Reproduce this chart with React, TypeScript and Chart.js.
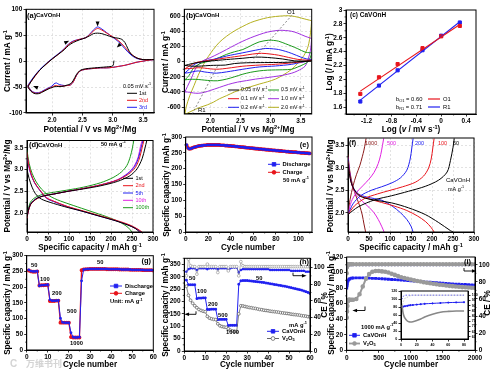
import React, { useEffect, useRef } from "react";
import { Chart, registerables } from "chart.js";
Chart.register(...registerables);

const PW = 492, PH = 377;
const FF = "'Liberation Sans', Arial, Helvetica, sans-serif";
const RED = "#e8141b", BLUE = "#2020f0", GREEN = "#1a9a1a", MAG = "#e020e0", PURP = "#a030e0", OLIVE = "#b5b020", DRED = "#8b1a1a", GRAY = "#8c8c8c", BLK = "#000000";

// ---------------- (a) CV, 0.05 mV/s, cycles ----------------
const aLoopV = [1.60,1.65,1.72,1.80,1.90,2.00,2.10,2.20,2.27,2.35,2.45,2.55,2.62,2.68,2.75,2.82,2.90,3.00,3.10,3.20,3.30,3.40,3.50,3.60,3.68, 3.60,3.50,3.40,3.30,3.20,3.10,3.00,2.90,2.80,2.70,2.60,2.50,2.45,2.40,2.35,2.30,2.25,2.20,2.15,2.10,2.07,2.03,2.00,1.95,1.90,1.85,1.80,1.75,1.70,1.65,1.60];
const a3I = [-47,-38,-27,-16,-5,5,14,24,33,39,42,45,52,60,66,62,55,46,37,24,12,5,3,3,3, 2,0,-2,-5,-8,-10,-12,-13,-13,-14,-15,-17,-20,-28,-40,-46,-47,-47,-46,-44,-42,-44,-48,-51,-54,-57,-60,-61,-60,-56,-47];
const a2I = [-48,-40,-29,-17,-6,4,13,23,32,38,42,45,51,58,63,60,54,47,39,27,14,6,3,3,3, 2,0,-2,-5,-8,-10,-12,-13,-13,-14,-15,-17,-20,-28,-40,-46,-47,-48,-48,-48,-47,-48,-50,-52,-55,-58,-61,-62,-61,-57,-48];
const a1LowV = [3.02,3.00,2.90,2.80,2.70,2.60,2.50,2.45,2.40,2.35,2.30,2.25,2.20,2.15,2.10,2.05,2.00,1.95,1.90,1.85,1.80,1.75,1.70,1.65,1.60];
const a1LowI = [1,-9,-11,-12,-13,-14,-16,-19,-26,-37,-44,-46,-48,-49,-49,-49,-51,-53,-56,-59,-62,-63,-62,-58,-50];
const a1UpV = [1.60,1.65,1.72,1.80,1.90,2.00,2.10,2.20,2.27,2.35,2.45,2.55,2.62,2.68,2.75,2.82,2.90,3.00,3.10,3.15,3.20,3.25,3.30,3.40,3.50,3.60,3.68];
const a1UpI = [-50,-40,-28,-17,-6,4,13,22,30,36,41,45,49,53,54,53,50,46,44,42,36,24,14,6,3,3,3];

// ---------------- (b) CV at scan rates ----------------
const bOlUpV = [1.58,1.60,1.66,1.73,1.80,1.89,1.97,2.05,2.15,2.27,2.40,2.54,2.67,2.81,2.95,3.08,3.20,3.30,3.40,3.51,3.60,3.68];
const bOlUpI = [-700,-600,-450,-317,-180,-35,70,160,255,335,405,465,515,552,580,595,603,605,595,574,555,540];
const bOlLoV = [3.68,3.66,3.62,3.55,3.45,3.35,3.20,3.08,2.95,2.81,2.67,2.54,2.40,2.27,2.15,2.05,1.95,1.84,1.75,1.68,1.62,1.58];
const bOlLoI = [540,380,200,80,-20,-100,-180,-230,-265,-296,-330,-360,-400,-448,-490,-535,-570,-600,-630,-656,-680,-700];
const bPuUpV = [1.58,1.62,1.68,1.78,1.90,2.00,2.15,2.27,2.40,2.54,2.67,2.81,2.95,3.13,3.25,3.35,3.45,3.57,3.65,3.68];
const bPuUpI = [-400,-330,-230,-60,20,52,110,160,215,270,315,356,390,413,410,400,375,335,313,305];
const bPuLoV = [3.68,3.66,3.62,3.57,3.45,3.35,3.20,3.05,2.90,2.75,2.60,2.45,2.30,2.15,2.00,1.90,1.80,1.72,1.66,1.62,1.58];
const bPuLoI = [305,150,30,-60,-120,-152,-180,-198,-215,-230,-250,-270,-300,-340,-380,-405,-417,-413,-405,-400,-400];
const bGrUpV = [1.58,1.65,1.73,1.85,2.00,2.15,2.27,2.40,2.54,2.67,2.81,2.97,3.05,3.13,3.25,3.35,3.45,3.57,3.65,3.68];
const bGrUpI = [-240,-180,-78,-20,9,55,96,130,160,210,260,283,280,270,235,204,170,126,117,115];
const bGrLoV = [3.68,3.66,3.62,3.55,3.45,3.35,3.20,3.08,2.95,2.81,2.67,2.54,2.40,2.27,2.12,2.00,1.90,1.80,1.70,1.62,1.58];
const bGrLoI = [115,60,0,-35,-70,-100,-107,-109,-112,-122,-140,-165,-200,-230,-252,-250,-243,-235,-232,-236,-240];
const bBlUpV = [1.58,1.65,1.75,1.90,2.05,2.27,2.54,2.81,2.92,3.05,3.13,3.25,3.35,3.50,3.60,3.68];
const bBlUpI = [-150,-100,-30,10,30,74,117,160,174,168,160,135,108,60,35,28];
const bBlLoV = [3.68,3.60,3.50,3.35,3.08,2.81,2.54,2.27,2.10,2.00,1.90,1.80,1.70,1.62,1.58];
const bBlLoI = [28,5,-10,-35,-57,-70,-100,-135,-152,-145,-135,-122,-135,-148,-150];
const bReUpV = [1.58,1.65,1.75,1.90,2.05,2.27,2.54,2.70,2.85,3.00,3.13,3.30,3.45,3.60,3.68];
const bReUpI = [-95,-60,-15,8,25,50,80,100,110,100,85,55,30,20,18];
const bReLoV = [3.68,3.60,3.45,3.30,3.08,2.81,2.54,2.35,2.20,2.10,2.00,1.90,1.80,1.70,1.62,1.58];
const bReLoI = [18,5,-8,-20,-35,-45,-60,-80,-95,-100,-95,-85,-80,-88,-92,-95];
const bBkUpV = [1.58,1.70,1.85,2.00,2.27,2.54,2.75,2.95,3.20,3.40,3.60,3.68];
const bBkUpI = [-50,-25,-5,8,28,45,60,55,35,10,8,8];
const bBkLoV = [3.68,3.50,3.20,2.90,2.60,2.40,2.25,2.10,2.00,1.85,1.70,1.58];
const bBkLoI = [8,0,-10,-12,-15,-25,-45,-48,-50,-58,-60,-50];
const bO1V = [2.72, 3.35], bO1I = [40, 610];
const bR1V = [1.70, 2.12], bR1I = [-690, -60];

// ---------------- (c) log i vs log v ----------------
const cLogV = [-1.30, -1.00, -0.70, -0.30, 0.00, 0.30];
const cO1 = [1.79, 2.03, 2.22, 2.45, 2.62, 2.77];
const cR1 = [1.68, 1.91, 2.13, 2.42, 2.63, 2.82];
const cFitX = [-1.30, 0.30];
const cO1Fit = [1.83, 2.79];
const cR1Fit = [1.70, 2.83];

// ---------------- (d) GCD at 50 mA/g ----------------
const d1DisC = [0,5,12,20,30,40,55,90,130,170,210,240,258,268];
const d1DisV = [3.00,2.80,2.60,2.45,2.35,2.30,2.25,2.15,2.05,1.94,1.83,1.73,1.65,1.57];
const d2DisC = [0,4,10,18,30,47,63,95,135,175,215,245,263,274];
const d2DisV = [3.40,3.12,2.90,2.71,2.54,2.35,2.28,2.16,2.05,1.94,1.83,1.73,1.64,1.57];
const d5DisC = [0,4,10,18,30,47,63,95,135,175,215,245,262,272];
const d5DisV = [3.35,3.10,2.88,2.70,2.53,2.34,2.27,2.15,2.04,1.93,1.82,1.72,1.64,1.57];
const d10DisC = [0,4,10,18,30,47,63,95,135,175,215,244,260,270];
const d10DisV = [3.30,3.08,2.87,2.70,2.54,2.36,2.28,2.16,2.04,1.93,1.82,1.72,1.64,1.57];
const d100DisC = [0,5,12,22,35,50,65,80,110,150,190,220,240,250];
const d100DisV = [3.45,3.15,2.92,2.72,2.55,2.42,2.34,2.28,2.18,2.05,1.92,1.80,1.68,1.57];
const d1ChC = [0,3,8,15,25,40,63,95,135,175,215,245,262,274,281,285];
const d1ChV = [1.92,2.06,2.20,2.28,2.35,2.40,2.44,2.50,2.56,2.63,2.73,2.86,3.02,3.25,3.50,3.66];
const d2ChC = [0,3,8,15,25,40,63,95,135,175,215,242,258,268,274,278];
const d2ChV = [1.88,2.04,2.19,2.27,2.34,2.40,2.44,2.50,2.57,2.65,2.76,2.90,3.05,3.27,3.50,3.66];
const d5ChC = [0,3,8,15,25,40,63,95,135,175,215,240,256,266,272,276];
const d5ChV = [1.90,2.05,2.20,2.28,2.35,2.40,2.44,2.50,2.57,2.65,2.76,2.91,3.07,3.29,3.52,3.66];
const d10ChC = [0,3,8,15,25,40,63,95,135,175,215,240,255,265,270,274];
const d10ChV = [1.90,2.05,2.20,2.28,2.35,2.40,2.44,2.50,2.57,2.65,2.77,2.92,3.08,3.30,3.53,3.66];
const d100ChC = [0,3,8,15,25,40,63,95,135,175,205,225,238,246,251,254];
const d100ChV = [1.95,2.10,2.25,2.33,2.39,2.44,2.48,2.53,2.60,2.70,2.82,2.95,3.10,3.30,3.50,3.66];

// ---------------- (e) cycling at 50 mA/g ----------------
const eDis = [276,265,262,263,264,265,267,268,269,270, 271,272,272,273,273,274,274,274,275,275, 275,275,275,275,275,275,275,275,275,275, 274,274,274,274,273,273,273,272,272,272, 271,271,271,270,270,270,269,269,268,268, 268,267,267,266,266,266,265,265,265,264, 264,263,263,263,262,262,262,261,261,261, 260,260,260,259,259,259,258,258,258,257, 257,257,256,256,256,255,255,255,254,254, 254,253,253,253,252,252,252,252,251,251, 251,250,250,250,250,249,249,249,248,248];
const eCha = [274,266,263,263,264,266,267,268,269,270, 271,272,272,273,273,274,274,274,275,275, 275,275,275,275,275,275,275,275,275,275, 274,274,274,274,273,273,273,272,272,272, 271,271,271,270,270,270,269,269,268,268, 268,267,267,266,266,266,265,265,265,264, 264,263,263,263,262,262,262,261,261,261, 260,260,260,259,259,259,258,258,258,257, 257,257,256,256,256,255,255,255,254,254, 254,253,253,253,252,252,252,252,251,251, 251,250,250,250,250,249,249,249,248,248];

// ---------------- (f) GCD at rates ----------------
const f50ChC = [0,24,64,104,144,184,216,236,244,250,253];
const f50ChV = [1.96,2.13,2.29,2.38,2.48,2.59,2.73,2.91,3.17,3.46,3.66];
const f50DisC = [0,8,24,48,104,144,184,216,244,250];
const f50DisV = [3.10,2.66,2.40,2.31,2.22,2.11,1.96,1.78,1.60,1.57];
const f100ChC = [0,15,40,70,100,130,160,180,192,198,202,205];
const f100ChV = [1.96,2.15,2.32,2.42,2.50,2.58,2.68,2.82,3.00,3.20,3.45,3.66];
const f100DisC = [0,6,15,30,50,80,110,140,165,185,198,205];
const f100DisV = [3.15,2.75,2.50,2.38,2.31,2.23,2.15,2.05,1.93,1.80,1.67,1.57];
const f200ChC = [0,12,30,55,80,105,125,140,148,152,155];
const f200ChV = [1.96,2.20,2.38,2.50,2.58,2.67,2.78,2.95,3.20,3.45,3.66];
const f200DisC = [0,5,12,25,45,80,105,125,140,150,155];
const f200DisV = [3.20,2.82,2.57,2.42,2.35,2.28,2.15,2.00,1.85,1.70,1.57];
const f500ChC = [0,8,20,35,50,62,72,78,82,85];
const f500ChV = [1.97,2.25,2.45,2.60,2.75,2.90,3.10,3.30,3.50,3.66];
const f500DisC = [0,4,10,20,35,50,62,72,80,86];
const f500DisV = [3.25,2.90,2.60,2.40,2.25,2.12,2.00,1.85,1.70,1.57];
const f1000ChC = [0,5,12,20,28,34,38,41,43];
const f1000ChV = [1.98,2.30,2.60,2.85,3.05,3.25,3.40,3.55,3.66];
const f1000DisC = [0,4,10,16,22,28,34,38,42];
const f1000DisV = [3.30,2.95,2.65,2.45,2.30,2.15,1.95,1.75,1.57];

// ---------------- (g) rate capability ----------------
const gDis = [255,251,250,250,251, 204,206,206,207,208, 160,157,157,157,158, 101,88,87,87,87, 55,41,40,40,41, 220,256,257,258,258, 258,258,258,258,258, 258,258,258,257,257, 257,257,257,257,256, 256,256,256,256,255, 255,255,255,255,255, 254,254,254,254,254];
const gCha = [253,250,249,249,250, 205,206,206,207,207, 156,156,156,157,157, 87,87,87,87,87, 41,40,40,40,40, 254,256,257,257,258, 258,258,258,258,258, 258,258,257,257,257, 257,257,257,256,256, 256,256,256,255,255, 255,255,255,255,254, 254,254,254,254,253];

// ---------------- (h) rate: CaVOnH vs V2O5 ----------------
const hCa = [287,268,268,268,268, 212,214,214,215,215, 168,168,169,169,169, 127,128,128,128,128, 103,104,104,104,104, 270,284,285,285,285, 284,283,282,281,280, 279,278,277,275,274, 272,271,269,268,266, 265,263,262,260,258, 256,254,252,250,248, 246,243,240,237,233];
const hV = [262,225,205,193,183, 175,168,164,161,159, 140,133,130,128,127, 110,102,99,97,96, 90,84,81,80,79, 150,183,182,180,178, 176,175,173,172,170, 168,167,165,164,163, 161,160,159,158,157, 155,154,153,152,151, 149,148,147,146,145, 143,142,141,139,138];
const hCaCE = [95,98,99,99,99, 97,99,99,99,99, 98,99,99,99,99, 98,99,99,99,99, 97,99,100,100,100, 94,97,98,98,98, 98,98,98,98,98, 98,98,98,98,98, 97,97,97,97,97, 97,97,97,97,97, 96,96,96,96,96, 96,96,95,95,95];
const hVCE = [90,110,102,101,101, 92,101,101,101,101, 104,101,101,101,101, 94,101,101,101,101, 96,101,101,101,101, 90,107,102,101,101, 101,101,101,101,101, 101,101,101,101,101, 101,101,101,101,101, 101,101,101,101,101, 101,101,101,101,101, 101,101,101,101,101];

// ---------------- (i) long cycling at 1000 mA/g ----------------
const iCyc = [1,5,10,20,30,40,50,75,100,150,200,250,300,350,400,450,500,550,600,650,700,750,800,850,900,950,1000,1050,1100,1150,1200,1250,1300,1350,1400,1450,1500,1550,1600,1650,1700,1750,1800,1850,1900,1950,2000];
const iCa = [80,83,86,89,90.5,91.5,92,92.8,93, 93.2,93.2,93.1,93,92.8,92.6,92.4,92.2,92,91.7,91.4, 91.1,90.8,90.5,90.2,89.9,89.6,89.3,89,88.7,88.4,88.1,87.8,87.5,87.2,86.9,86.6,86.3,86,85.7,85.4,85.2,85,84.8,84.6,84.4,84.2,84];
const iV = [42,50,57,63,65,65,65,65,65, 66,72,82,92,98,101,102,102,101.5,101,100, 98.5,97,95.5,94,93,92,91,90,89.2,88.4,87.6,86.9,86.2,85.6,85,84.4,83.9,83.4,82.9,82.5,82.1,81.7,81.3,81,80.7,80.4,80.1];
const iCaCE = [96,98,99,99.5,99.5,99.5,99.5,99.5,99.5, 99.5,99.5,99.5,99.5,99.5,99.5,99.5,99.5,99.5,99.5,99.5, 99.5,99.5,99.5,99.5,99.5,99.5,99.5,99.5,99.5,99.5,99.5,99.5,99.5,99.5,99.5,99.5,99.5,99.5,99.5,99.5,99.5,99.5,99.5,99.5,99.5,99.5,99.5];
const iVCE = [90,97,99,100.5,100.5,100.5,100.5,100.5,100.5, 100.5,100.5,100.5,100.5,100.5,100.5,100.5,100.5,100.5,100.5,100.5, 100.5,100.5,100.5,100.5,100.5,100.5,100.5,100.5,100.5,100.5,100.5,100.5,100.5,100.5,100.5,100.5,100.5,100.5,100.5,100.5,100.5,100.5,100.5,100.5,100.5,100.5,100.5];
// inset (first 80 cycles)
const inCyc = [1,3,5,8,10,12,15,20,25,30,40,50,60,70,80];
const inCa = [80,81,82,83,84,84.5,85,86,87,88,89,90,91,91.5,92];
const inV = [85,62,52,45,43,42.5,43,46,50,55,62,67,69,70,70];
const inCaCE = [96,99,100,100,100,100,100,100,100,100,100,100,100,100,100];
const inVCE = [88,94,97,98,99,99.5,100,100,100,100,100,100,100,100,100];

// ---------------- ticks ----------------
const tkPot = [2.0, 2.5, 3.0, 3.5];
const tkCurA = [-100, -50, 0, 50, 100];
const tkCurB = [-600, -400, -200, 0, 200, 400, 600];
const tkLogV = [-1.2, -0.8, -0.4, 0, 0.4];
const tkLogI = [1.6, 1.8, 2, 2.2, 2.4, 2.6, 2.8, 3];
const tkCap300 = [0, 50, 100, 150, 200, 250, 300];
const tkCyc110 = [0, 20, 40, 60, 80, 100];
const tkCyc60 = [0, 10, 20, 30, 40, 50, 60];
const tkCap350 = [0, 50, 100, 150, 200, 250, 300, 350];
const tkCE = [0, 20, 40, 60, 80, 100];
const tkCyc2000 = [0, 500, 1000, 1500, 2000];
const tkCap120 = [0, 20, 40, 60, 80, 100, 120];
const tkInX = [0, 20, 40, 60, 80];
const tkInR = [60, 65, 70, 75, 80, 85, 90, 95, 100];

// ---------------- helpers ----------------
type Axis = { min: number; max: number; ticks: number[]; fmt: (v: number) => string; minor?: number; size?: number };
type Panel = {
  plot: [number, number, number, number];
  x: Axis; y: Axis; y2?: Axis;
  grid?: boolean; fillBg?: boolean;
  datasets: any[];
  xTitle?: [string, number, number];
  yTitle?: [string, number, number];
  y2Title?: [string, number, number];
  deco?: (ctx: CanvasRenderingContext2D, X: (v: number) => number, Y: (v: number) => number, Y2: (v: number) => number) => void;
};

const f1 = (v: number) => v.toFixed(1);
const f0 = (v: number) => String(Math.round(v));
const fg = (v: number) => String(Math.round(v * 10) / 10);

function parseRich(s: string) {
  const out: { t: string; k: string }[] = [];
  let buf = "", i = 0;
  while (i < s.length) {
    const c = s[i];
    if ((c === "^" || c === "_" || c === "~") && s[i + 1] === "{") {
      if (buf) { out.push({ t: buf, k: "n" }); buf = ""; }
      const j = s.indexOf("}", i);
      out.push({ t: s.slice(i + 2, j), k: c === "^" ? "sup" : c === "_" ? "sub" : "it" });
      i = j + 1;
    } else { buf += c; i++; }
  }
  if (buf) out.push({ t: buf, k: "n" });
  return out;
}

function drawRich(ctx: CanvasRenderingContext2D, s: string, x: number, y: number, size: number, o: any = {}) {
  const align = o.align || "left", color = o.color || "#000", bold = o.bold !== false, rot = o.rot || 0, fam = o.family || FF;
  const segs = parseRich(s);
  const fontFor = (k: string) => {
    const sz = k === "sup" || k === "sub" ? size * 0.68 : size;
    return `${k === "it" ? "italic " : ""}${bold ? "bold " : ""}${sz}px ${fam}`;
  };
  let total = 0;
  const ws = segs.map((sg) => { ctx.font = fontFor(sg.k); const w = ctx.measureText(sg.t).width; total += w; return w; });
  ctx.save();
  ctx.translate(x, y);
  if (rot) ctx.rotate(rot);
  let cx = align === "left" ? 0 : align === "center" ? -total / 2 : -total;
  ctx.fillStyle = color; ctx.textBaseline = "middle"; ctx.textAlign = "left";
  segs.forEach((sg, i) => {
    ctx.font = fontFor(sg.k);
    const dy = sg.k === "sup" ? -size * 0.33 : sg.k === "sub" ? size * 0.28 : 0;
    ctx.fillText(sg.t, cx, dy);
    cx += ws[i];
  });
  ctx.restore();
}

function legLine(ctx: CanvasRenderingContext2D, x1: number, x2: number, y: number, color: string, w = 1, marker?: string, mfill?: string) {
  ctx.save();
  ctx.strokeStyle = color; ctx.lineWidth = w;
  ctx.beginPath(); ctx.moveTo(x1, y); ctx.lineTo(x2, y); ctx.stroke();
  if (marker) {
    const cx = (x1 + x2) / 2;
    ctx.fillStyle = mfill || color; ctx.lineWidth = 0.8;
    ctx.beginPath();
    if (marker === "rect") ctx.rect(cx - 1.8, y - 1.8, 3.6, 3.6); else ctx.arc(cx, y, 1.9, 0, Math.PI * 2);
    ctx.fill(); ctx.stroke();
  }
  ctx.restore();
}

function tri(ctx: CanvasRenderingContext2D, x: number, y: number, angDeg: number, s: number, color = "#000") {
  const a = (angDeg * Math.PI) / 180;
  ctx.save(); ctx.translate(x, y); ctx.rotate(a); ctx.fillStyle = color;
  ctx.beginPath(); ctx.moveTo(s, 0); ctx.lineTo(-s * 0.8, -s * 0.7); ctx.lineTo(-s * 0.8, s * 0.7); ctx.closePath(); ctx.fill();
  ctx.restore();
}

function axisArrow(ctx: CanvasRenderingContext2D, xTail: number, xHead: number, y: number, tick: number) {
  ctx.save(); ctx.strokeStyle = "#000"; ctx.lineWidth = 0.9;
  ctx.beginPath(); ctx.moveTo(xTail, y - tick); ctx.lineTo(xTail, y); ctx.lineTo(xHead, y); ctx.stroke();
  ctx.restore();
  tri(ctx, xHead, y, xHead < xTail ? 180 : 0, 2.6);
}

function ln(xs: number[], ys: number[], color: string, o: any = {}) {
  return {
    data: xs.map((x, i) => ({ x, y: ys[i] })),
    showLine: true, borderColor: color, backgroundColor: color,
    borderWidth: 1, pointRadius: 0, tension: 0, ...o,
  };
}

function scaleCfg(a: Axis, pos: string, size: number, grid: boolean) {
  const tsize = a.size || 6.5;
  return {
    type: "linear", position: pos, min: a.min, max: a.max,
    afterBuildTicks: (s: any) => { s.ticks = a.ticks.map((v) => ({ value: v })); },
    afterFit: (s: any) => { if (pos === "bottom") s.height = size; else s.width = size; },
    ticks: {
      autoSkip: false, maxRotation: 0, minRotation: 0, padding: 1.2, color: "#000",
      font: { family: FF, size: tsize, weight: "bold" },
      callback: (v: any) => a.fmt(Number(v)),
    },
    grid: {
      display: true, drawOnChartArea: grid, color: grid ? "#cfcfcf" : "rgba(0,0,0,0)",
      tickColor: "#000", tickLength: 2.5, tickWidth: 0.8, lineWidth: 0.6,
    },
    border: { display: true, color: "#000", width: 1, dash: grid ? [2, 2] : [] },
    title: { display: false },
  };
}

function makePlugin(p: Panel) {
  return {
    id: "deco",
    beforeDraw(chart: any) {
      if (!p.fillBg) return;
      const { left, top, right, bottom } = chart.chartArea;
      const ctx = chart.ctx; ctx.save(); ctx.fillStyle = "#fff"; ctx.fillRect(left, top, right - left, bottom - top); ctx.restore();
    },
    afterDraw(chart: any) {
      const ctx: CanvasRenderingContext2D = chart.ctx;
      const { left, top, right, bottom } = chart.chartArea;
      const sx = chart.scales.x, sy = chart.scales.y, sy2 = chart.scales.y2;
      ctx.save();
      ctx.strokeStyle = "#000"; ctx.lineWidth = 1;
      ctx.strokeRect(left, top, right - left, bottom - top);
      ctx.lineWidth = 0.7;
      const minor = (a: Axis, sc: any, side: string) => {
        if (!a.minor) return;
        const start = Math.ceil(a.min / a.minor);
        const end = Math.floor(a.max / a.minor);
        for (let k = start; k <= end; k++) {
          const v = k * a.minor;
          if (a.ticks.some((t) => Math.abs(t - v) < 1e-9)) continue;
          const pxv = sc.getPixelForValue(v);
          ctx.beginPath();
          if (side === "b") { ctx.moveTo(pxv, bottom); ctx.lineTo(pxv, bottom + 1.5); }
          else if (side === "l") { ctx.moveTo(left, pxv); ctx.lineTo(left - 1.5, pxv); }
          else { ctx.moveTo(right, pxv); ctx.lineTo(right + 1.5, pxv); }
          ctx.stroke();
        }
      };
      minor(p.x, sx, "b"); minor(p.y, sy, "l"); if (p.y2 && sy2) minor(p.y2, sy2, "r");
      if (p.xTitle) drawRich(ctx, p.xTitle[0], p.xTitle[1], p.xTitle[2], 8.2, { align: "center" });
      if (p.yTitle) drawRich(ctx, p.yTitle[0], p.yTitle[1], p.yTitle[2], 8.2, { align: "center", rot: -Math.PI / 2 });
      if (p.y2Title) drawRich(ctx, p.y2Title[0], p.y2Title[1], p.y2Title[2], 8.2, { align: "center", rot: -Math.PI / 2 });
      if (p.deco) {
        const X = (v: number) => sx.getPixelForValue(v);
        const Y = (v: number) => sy.getPixelForValue(v);
        const Y2 = (v: number) => (sy2 ? sy2.getPixelForValue(v) : 0);
        p.deco(ctx, X, Y, Y2);
      }
      ctx.restore();
    },
  };
}

function PanelCanvas({ p }: { p: Panel }) {
  const ref = useRef<HTMLCanvasElement>(null);
  useEffect(() => {
    const [l, t, r, b] = p.plot;
    const scales: any = {
      x: scaleCfg(p.x, "bottom", PH - b, !!p.grid),
      y: scaleCfg(p.y, "left", l, !!p.grid),
    };
    if (p.y2) scales.y2 = scaleCfg(p.y2, "right", PW - r, false);
    const chart = new Chart(ref.current as HTMLCanvasElement, {
      type: "scatter",
      data: { datasets: p.datasets },
      options: {
        responsive: false, animation: false, devicePixelRatio: 1, events: [],
        layout: { padding: { left: 0, top: t, right: p.y2 ? 0 : PW - r, bottom: 0 } },
        plugins: { legend: { display: false }, tooltip: { enabled: false } },
        scales,
      } as any,
      plugins: [makePlugin(p)],
    });
    return () => chart.destroy();
  }, []);
  return <canvas ref={ref} width={PW} height={PH} style={{ position: "absolute", left: 0, top: 0, width: PW, height: PH }} />;
}

const T = (ctx: CanvasRenderingContext2D, s: string, x: number, y: number, size = 6, o: any = {}) => drawRich(ctx, s, x, y, size, o);
const POT = "Potential / V vs Mg^{2+}/Mg";
const CAP = "Specific capacity / mAh g^{-1}";

const panels: Panel[] = [
  // (a)
  {
    plot: [26, 9.3, 154, 113], grid: true,
    x: { min: 1.57, max: 3.68, ticks: tkPot, fmt: f1 },
    y: { min: -100, max: 100, ticks: tkCurA, fmt: f0, minor: 25 },
    xTitle: [POT, 90, 130], yTitle: ["Current / mA g^{-1}", 8, 61],
    datasets: [
      ln([...a1LowV, ...a1UpV], [...a1LowI, ...a1UpI], BLK, { tension: 0.3 }),
      ln(aLoopV, a2I, RED, { tension: 0.3 }),
      ln(aLoopV, a3I, BLUE, { tension: 0.3 }),
    ],
    deco: (ctx, X, Y) => {
      T(ctx, "(a)", 27, 15.5, 7.5); T(ctx, "CaVOnH", 36, 15.8, 6);
      T(ctx, "0.05 mV s^{-1}", 123, 86, 5.5, { bold: false });
      const rows: [string, string, number][] = [["1st", BLK, 93.3], ["2nd", RED, 100.3], ["3rd", BLUE, 107.3]];
      rows.forEach(([s, c, yy]) => { legLine(ctx, 127, 137, yy, c, 1); T(ctx, s, 139, yy, 5.5, { bold: false, color: c }); });
      tri(ctx, X(2.24), Y(37), -25, 2.8);
      tri(ctx, X(2.75), Y(72), 90, 2.8);
      tri(ctx, X(3.1), Y(30), 135, 2.8);
      tri(ctx, X(1.73), Y(-50), 200, 2.8);
    },
  },
  // (b)
  {
    plot: [184.3, 9.3, 311.7, 114], grid: true,
    x: { min: 1.57, max: 3.68, ticks: tkPot, fmt: f1 },
    y: { min: -690, max: 690, ticks: tkCurB, fmt: f0, minor: 100 },
    xTitle: [POT, 248, 130], yTitle: ["Current / mA g^{-1}", 166, 62],
    datasets: [
      ln(bO1V, bO1I, "#666", { borderDash: [2, 2], borderWidth: 0.8 }),
      ln(bR1V, bR1I, "#666", { borderDash: [2, 2], borderWidth: 0.8 }),
      ln([...bBkUpV, ...bBkLoV], [...bBkUpI, ...bBkLoI], BLK, { tension: 0.3 }),
      ln([...bReUpV, ...bReLoV], [...bReUpI, ...bReLoI], RED, { tension: 0.3 }),
      ln([...bBlUpV, ...bBlLoV], [...bBlUpI, ...bBlLoI], BLUE, { tension: 0.3 }),
      ln([...bGrUpV, ...bGrLoV], [...bGrUpI, ...bGrLoI], GREEN, { tension: 0.3 }),
      ln([...bPuUpV, ...bPuLoV], [...bPuUpI, ...bPuLoI], PURP, { tension: 0.3 }),
      ln([...bOlUpV, ...bOlLoV], [...bOlUpI, ...bOlLoI], OLIVE, { tension: 0.3 }),
    ],
    deco: (ctx) => {
      T(ctx, "(b)", 186, 15.5, 7.5); T(ctx, "CaVOnH", 195, 15.8, 6);
      T(ctx, "O1", 287, 12.5, 6, { bold: false }); T(ctx, "R1", 198, 110, 6, { bold: false });
      const L: [string, string, number, number][] = [
        ["0.05 mV s^{-1}", BLK, 228, 90], ["0.1 mV s^{-1}", RED, 228, 98.7], ["0.2 mV s^{-1}", BLUE, 228, 107.3],
        ["0.5 mV s^{-1}", GREEN, 268, 90], ["1.0 mV s^{-1}", PURP, 268, 98.7], ["2.0 mV s^{-1}", OLIVE, 268, 107.3],
      ];
      L.forEach(([s, c, x, y]) => { legLine(ctx, x, x + 11, y, c, 1); T(ctx, s, x + 13, y, 5.2, { bold: false }); });
    },
  },
  // (c)
  {
    plot: [346, 10, 476, 114],
    x: { min: -1.53, max: 0.56, ticks: tkLogV, fmt: fg, minor: 0.2 },
    y: { min: 1.5, max: 3.0, ticks: tkLogI, fmt: fg, minor: 0.1 },
    xTitle: ["Log (~{v} / mV s^{-1})", 411, 130], yTitle: ["Log (~{I} / mA g^{-1})", 330, 62],
    datasets: [
      ln(cFitX, cO1Fit, RED, { borderWidth: 1.1 }),
      ln(cFitX, cR1Fit, BLUE, { borderWidth: 1.1 }),
      ln(cLogV, cO1, RED, { showLine: false, pointRadius: 2.2, pointStyle: "rect" }),
      ln(cLogV, cR1, BLUE, { showLine: false, pointRadius: 2.2, pointStyle: "rect" }),
    ],
    deco: (ctx) => {
      T(ctx, "(c) CaVOnH", 350, 15.5, 6.5);
      T(ctx, "b_{O1} = 0.60", 396, 99, 5.8, { bold: false }); legLine(ctx, 428, 440, 99, RED, 1.2); T(ctx, "O1", 443, 99, 5.8, { bold: false });
      T(ctx, "b_{R1} = 0.71", 396, 107, 5.8, { bold: false }); legLine(ctx, 428, 440, 107, BLUE, 1.2); T(ctx, "R1", 443, 107, 5.8, { bold: false });
    },
  },
  // (d)
  {
    plot: [27, 140.5, 153, 232], grid: true,
    x: { min: 0, max: 300, ticks: tkCap300, fmt: f0, minor: 25 },
    y: { min: 1.57, max: 3.67, ticks: tkPot, fmt: f1, minor: 0.25 },
    xTitle: [CAP, 90, 248], yTitle: [POT, 8, 186],
    datasets: [
      ln(d1DisC, d1DisV, BLK, { tension: 0.3 }), ln(d1ChC, d1ChV, BLK, { tension: 0.3 }),
      ln(d2DisC, d2DisV, RED, { tension: 0.3 }), ln(d2ChC, d2ChV, RED, { tension: 0.3 }),
      ln(d5DisC, d5DisV, BLUE, { tension: 0.3 }), ln(d5ChC, d5ChV, BLUE, { tension: 0.3 }),
      ln(d10DisC, d10DisV, MAG, { tension: 0.3 }), ln(d10ChC, d10ChV, MAG, { tension: 0.3 }),
      ln(d100DisC, d100DisV, GREEN, { tension: 0.3 }), ln(d100ChC, d100ChV, GREEN, { tension: 0.3 }),
    ],
    deco: (ctx) => {
      T(ctx, "(d)", 29, 145, 7.5); T(ctx, "CaVOnH", 38, 145.3, 6);
      T(ctx, "50 mA g^{-1}", 101, 144, 5.5);
      const rows: [string, string, number][] = [["1st", BLK, 178.3], ["2nd", RED, 185.7], ["5th", BLUE, 193], ["10th", MAG, 200.3], ["100th", GREEN, 207.7]];
      rows.forEach(([s, c, yy]) => { legLine(ctx, 123, 133, yy, c, 1); T(ctx, s, 135.5, yy, 5.5, { bold: false, color: c }); });
    },
  },
  // (e)
  {
    plot: [185.7, 137, 312, 232],
    x: { min: 0, max: 112, ticks: tkCyc110, fmt: f0, minor: 10 },
    y: { min: 0, max: 300, ticks: tkCap300, fmt: f0, minor: 25 },
    xTitle: ["Cycle number", 248, 248], yTitle: [CAP, 167, 185],
    datasets: [
      ln(eDis.map((_, i) => i + 1), eDis, BLUE, { pointRadius: 1, pointStyle: "rect" }),
      ln(eCha.map((_, i) => i + 1), eCha, RED, { pointRadius: 1.2, borderWidth: 1.3 }),
    ],
    deco: (ctx) => {
      T(ctx, "(e)", 309, 145, 7.5, { align: "right" });
      legLine(ctx, 268, 280, 164.3, BLUE, 1, "rect"); T(ctx, "Discharge", 282.5, 164.3, 5.8);
      legLine(ctx, 268, 280, 172.3, RED, 1, "circle"); T(ctx, "Charge", 282.5, 172.3, 5.8);
      T(ctx, "50 mA g^{-1}", 283, 180.3, 5.8);
    },
  },
  // (f)
  {
    plot: [348, 138, 474, 232], grid: true,
    x: { min: 0, max: 300, ticks: tkCap300, fmt: f0, minor: 25 },
    y: { min: 1.57, max: 3.67, ticks: tkPot, fmt: f1, minor: 0.25 },
    xTitle: [CAP, 411, 248], yTitle: [POT, 331, 186],
    datasets: [
      ln(f50ChC, f50ChV, BLK, { tension: 0.3 }), ln(f50DisC, f50DisV, BLK, { tension: 0.3 }),
      ln(f100ChC, f100ChV, RED, { tension: 0.3 }), ln(f100DisC, f100DisV, RED, { tension: 0.3 }),
      ln(f200ChC, f200ChV, BLUE, { tension: 0.3 }), ln(f200DisC, f200DisV, BLUE, { tension: 0.3 }),
      ln(f500ChC, f500ChV, MAG, { tension: 0.3 }), ln(f500DisC, f500DisV, MAG, { tension: 0.3 }),
      ln(f1000ChC, f1000ChV, DRED, { tension: 0.3 }), ln(f1000DisC, f1000DisV, DRED, { tension: 0.3 }),
    ],
    deco: (ctx) => {
      T(ctx, "(f)", 349, 143, 7.2);
      T(ctx, "1000", 365, 143, 5.5, { bold: false, color: DRED }); T(ctx, "500", 387, 143, 5.5, { bold: false, color: MAG });
      T(ctx, "200", 415, 143, 5.5, { bold: false, color: BLUE }); T(ctx, "100", 438, 143, 5.5, { bold: false, color: RED });
      T(ctx, "50", 453, 143, 5.5, { bold: false });
      T(ctx, "CaVOnH", 446, 180, 6, { bold: false }); T(ctx, "mA g^{-1}", 448, 189, 5.5, { bold: false });
    },
  },
  // (g)
  {
    plot: [26.7, 255.7, 153.3, 350],
    x: { min: 0, max: 60, ticks: tkCyc60, fmt: f0, minor: 5 },
    y: { min: 0, max: 300, ticks: tkCap300, fmt: f0, minor: 25 },
    xTitle: ["Cycle number", 90, 365], yTitle: [CAP, 8, 303],
    datasets: [
      ln(gDis.map((_, i) => i + 1), gDis, BLUE, { pointRadius: 1.1, pointStyle: "rect" }),
      ln(gCha.map((_, i) => i + 1), gCha, RED, { pointRadius: 1.3, borderWidth: 1.3 }),
    ],
    deco: (ctx) => {
      T(ctx, "50", 31, 265.7, 5.8); T(ctx, "100", 40, 279, 5.8); T(ctx, "200", 52, 293, 5.8);
      T(ctx, "500", 67, 311.7, 5.8); T(ctx, "1000", 70, 343, 5.8); T(ctx, "50", 97, 262.7, 5.8);
      T(ctx, "(g)", 151, 261, 7.5, { align: "right" });
      legLine(ctx, 110, 122, 286, BLUE, 1, "rect"); T(ctx, "Discharge", 125, 286, 5.8);
      legLine(ctx, 110, 122, 293.3, RED, 1, "circle"); T(ctx, "Charge", 125, 293.3, 5.8);
      T(ctx, "Unit: mA g^{-1}", 110, 301.7, 5.8);
      drawRich(ctx, "万维书刊", 26, 364, 9, { color: "#d4d4d4", bold: true, family: "'Noto Sans CJK SC', sans-serif" });
      drawRich(ctx, "C", 10, 364, 10, { color: "#d4d4d4" });
    },
  },
  // (h)
  {
    plot: [184.3, 258.3, 310, 351],
    x: { min: 0, max: 60, ticks: tkCyc60, fmt: f0, minor: 5 },
    y: { min: 0, max: 375, ticks: tkCap350, fmt: f0, minor: 25 },
    y2: { min: 0, max: 111, ticks: tkCE, fmt: f0, minor: 10 },
    xTitle: ["Cycle number", 247, 365], yTitle: [CAP, 166, 305], y2Title: ["CE / %", 324.5, 305],
    datasets: [
      ln(hVCE.map((_, i) => i + 1), hVCE, GRAY, { yAxisID: "y2", pointRadius: 1.4, backgroundColor: "#fff", borderWidth: 0.6 }),
      ln(hCaCE.map((_, i) => i + 1), hCaCE, BLUE, { yAxisID: "y2", pointRadius: 1, pointStyle: "rect" }),
      ln(hV.map((_, i) => i + 1), hV, "#666", { pointRadius: 1.4, backgroundColor: "#fff", borderWidth: 0.8 }),
      ln(hCa.map((_, i) => i + 1), hCa, BLUE, { pointRadius: 1.2, pointStyle: "rect" }),
    ],
    deco: (ctx) => {
      T(ctx, "50", 189, 278.3, 5.8); T(ctx, "100", 197, 291.7, 5.8); T(ctx, "200", 208, 304.3, 5.8);
      T(ctx, "500", 218, 315, 5.8); T(ctx, "1000", 226, 332.5, 5.8); T(ctx, "50", 256, 278.3, 5.8);
      T(ctx, "(h)", 309, 262, 7.5, { align: "right" });
      axisArrow(ctx, 196, 187, 314.3, 3);
      axisArrow(ctx, 293, 304, 275.7, 3);
      T(ctx, "mA g^{-1}", 289, 325, 5.8);
      legLine(ctx, 267, 279, 331.3, BLUE, 1, "rect"); T(ctx, "CaVOnH", 282, 331.3, 5.8);
      legLine(ctx, 267, 279, 338.5, "#666", 1, "circle", "#fff"); T(ctx, "V_{2}O_{5}", 282, 338.5, 5.8);
    },
  },
  // (i)
  {
    plot: [346.7, 257, 475, 350.3],
    x: { min: 0, max: 2000, ticks: tkCyc2000, fmt: f0, minor: 250 },
    y: { min: 0, max: 120, ticks: tkCap120, fmt: f0, minor: 10 },
    y2: { min: 0, max: 109, ticks: tkCE, fmt: f0, minor: 10 },
    xTitle: ["Cycle number", 411, 365], yTitle: [CAP, 331.5, 303], y2Title: ["CE / %", 488, 303],
    datasets: [
      ln(iCyc, iVCE, "#9a9a9a", { yAxisID: "y2", pointRadius: 1.2, borderWidth: 2 }),
      ln(iCyc, iCaCE, BLUE, { yAxisID: "y2", pointRadius: 0.8, pointStyle: "rect" }),
      ln(iCyc, iV, "#9a9a9a", { pointRadius: 1.3, borderWidth: 2 }),
      ln(iCyc, iCa, BLUE, { pointRadius: 1, pointStyle: "rect", borderWidth: 1.4 }),
    ],
    deco: (ctx) => {
      T(ctx, "(i)", 471, 262, 7.5, { align: "right" });
      axisArrow(ctx, 365, 355, 310.5, 4);
      axisArrow(ctx, 464, 474, 271, 3);
      T(ctx, "1000 mA g^{-1}", 361, 327.3, 5.8);
      legLine(ctx, 349, 360, 335.3, BLUE, 1, "rect"); T(ctx, "CaVOnH", 363, 335.3, 5.8);
      legLine(ctx, 349, 360, 343.5, "#9a9a9a", 1.8, "circle"); T(ctx, "V_{2}O_{5}", 363, 343.5, 5.8);
    },
  },
  // (i) inset
  {
    plot: [401, 291, 468, 339], fillBg: true,
    x: { min: 0, max: 85, ticks: tkInX, fmt: f0, size: 3.6 },
    y: { min: 0, max: 120, ticks: tkCap120, fmt: f0, size: 3.6 },
    y2: { min: 58, max: 104, ticks: tkInR, fmt: f0, size: 3.6 },
    datasets: [
      ln(inCyc, inVCE, "#aaa", { yAxisID: "y2", borderDash: [1.5, 1.5], borderWidth: 0.7 }),
      ln(inCyc, inCaCE, BLUE, { yAxisID: "y2", borderDash: [1.5, 1.5], borderWidth: 0.7 }),
      ln(inCyc, inV, "#888", { borderWidth: 1.6, tension: 0.3 }),
      ln(inCyc, inCa, BLUE, { borderWidth: 1, pointRadius: 0.7, pointStyle: "rect", tension: 0.3 }),
    ],
  },
];

export default function App() {
  return (
    <div style={{ position: "fixed", left: 0, top: 0, width: PW, height: PH, background: "#fff", overflow: "hidden" }}>
      {panels.map((p, i) => <PanelCanvas key={i} p={p} />)}
    </div>
  );
}
